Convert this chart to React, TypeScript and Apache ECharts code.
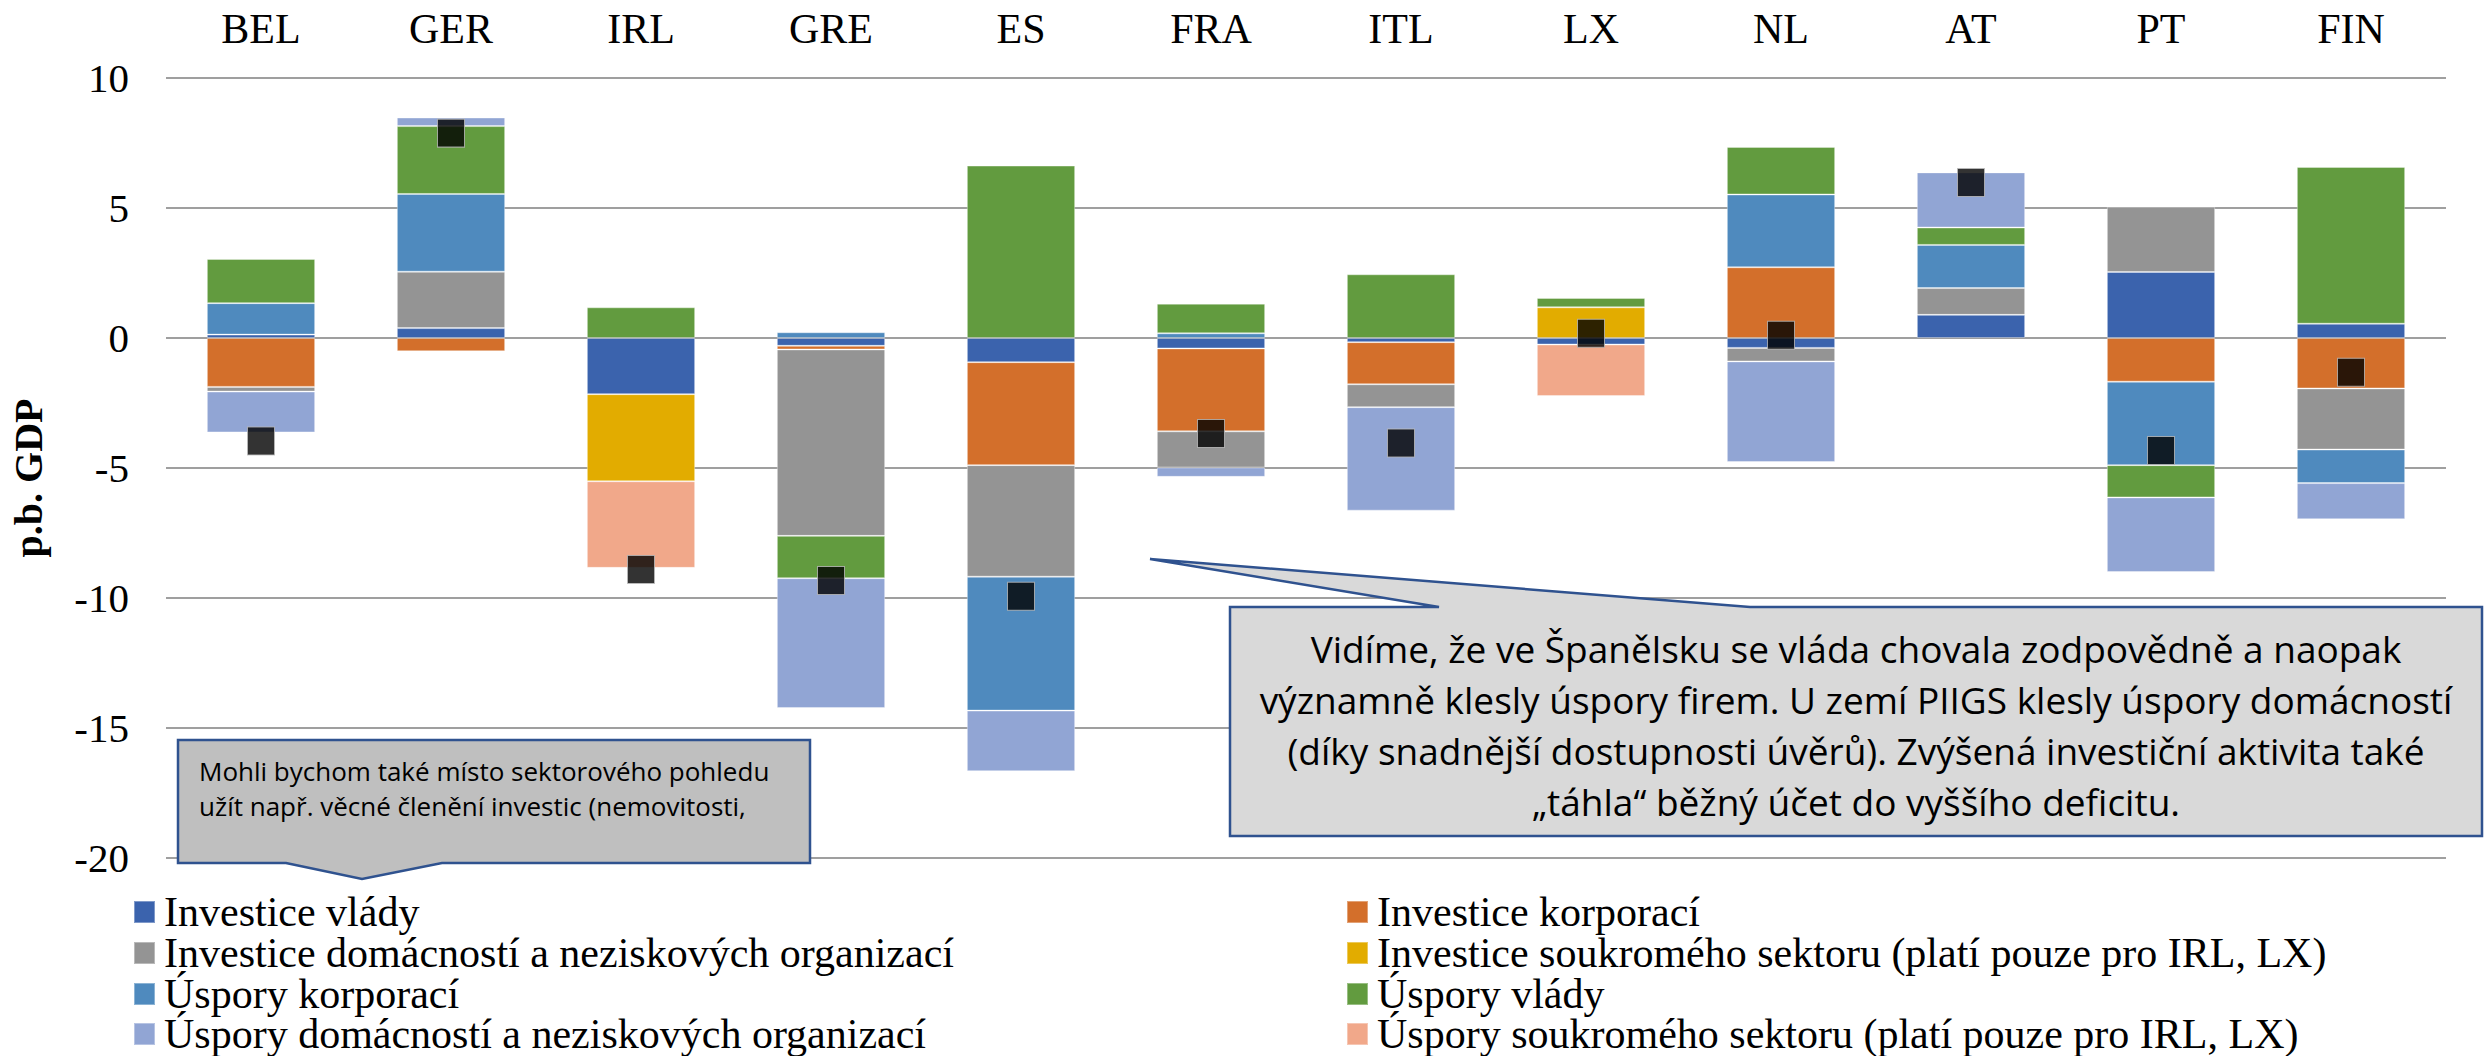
import React, { useEffect, useRef } from "react";
import * as echarts from "echarts";

const categories = ["BEL", "GER", "IRL", "GRE", "ES", "FRA", "ITL", "LX", "NL", "AT", "PT", "FIN"];

const seriesNames = [
  "Investice vlády",
  "Investice korporací",
  "Investice domácností a neziskových organizací",
  "Investice soukromého sektoru (platí pouze pro IRL, LX)",
  "Úspory korporací",
  "Úspory vlády",
  "Úspory domácností a neziskových organizací",
  "Úspory soukromého sektoru (platí pouze pro IRL, LX)",
];

const invVlady = [0.13, 0.38, -2.16, -0.3, -0.93, -0.4, -0.16, -0.25, -0.38, 0.89, 2.54, 0.55];
const invKorporaci = [-1.88, -0.51, null, -0.14, -3.96, -3.19, -1.62, null, 2.72, null, -1.68, -1.94];
const invDomacnosti = [-0.18, 2.17, null, -7.17, -4.29, -1.39, -0.88, null, -0.52, 1.03, 2.51, -2.35];
const invSoukromeho = [null, null, -3.35, null, null, null, null, 1.18, null, null, null, null];
const uspKorporaci = [1.21, 2.99, null, 0.22, -5.15, 0.18, null, null, 2.8, 1.66, -3.21, -1.29];
const uspVlady = [1.7, 2.61, 1.18, -1.63, 6.63, 1.14, 2.45, 0.36, 1.83, 0.67, -1.24, 6.03];
const uspDomacnosti = [-1.57, 0.33, null, -4.99, -2.33, -0.36, -3.98, null, -3.87, 2.12, -2.87, -1.39];
const uspSoukromeho = [null, null, -3.33, null, null, null, null, -1.98, null, null, null, null];
const beznyUcet = [-3.96, 7.88, -8.9, -9.33, -9.93, -3.67, -4.04, 0.18, 0.11, 5.98, -4.33, -1.32];

const yTicks = { min: -20, max: 10, interval: 5 };

const seriesData = [invVlady, invKorporaci, invDomacnosti, invSoukromeho, uspKorporaci, uspVlady, uspDomacnosti, uspSoukromeho];
const colors = ["#3B63AD", "#D36F2B", "#949494", "#E2AC00", "#4F8ABE", "#629B3F", "#91A5D4", "#F1A88A"];

const note1Lines = [
  "Mohli bychom také místo sektorového pohledu",
  "užít např. věcné členění investic (nemovitosti,",
];
const note2Lines = [
  "Vidíme, že ve Španělsku se vláda chovala zodpovědně a naopak",
  "významně klesly úspory firem. U zemí PIIGS klesly úspory domácností",
  "(díky snadnější dostupnosti úvěrů). Zvýšená investiční aktivita také",
  "„táhla“ běžný účet do vyššího deficitu.",
];

const SERIF = "'Liberation Serif', 'Times New Roman', serif";
const SANS = "'Open Sans', 'Noto Sans', sans-serif";

export default function App() {
  const ref = useRef<HTMLDivElement>(null);
  useEffect(() => {
    if (!ref.current) return;
    const chart = echarts.init(ref.current, undefined, { renderer: "svg" });

    const bars = seriesNames.map((name, i) => ({
      name,
      type: "bar",
      stack: "total",
      stackStrategy: "samesign",
      barCategoryGap: "43%",
      data: seriesData[i],
      itemStyle: { color: colors[i], borderColor: "rgba(255,255,255,0.35)", borderWidth: 1 },
      emphasis: { disabled: true },
    }));

    // legend: two columns, row-major order as in the reference
    const colLeft = [133, 1346];
    const rowCenter = [910, 951, 992, 1032];
    const legends = seriesNames.map((name, i) => ({
      data: [name],
      orient: "horizontal",
      left: colLeft[i % 2],
      top: rowCenter[Math.floor(i / 2)] - 19,
      padding: 0,
      itemWidth: 21,
      itemHeight: 22,
      icon: "rect",
      selectedMode: false,
      textStyle: { fontSize: 42, fontFamily: SERIF, color: "#000", lineHeight: 38, padding: [0, 0, 0, 4] },
    }));

    const note1 = [
      {
        type: "polygon",
        shape: {
          points: [
            [178, 740], [810, 740], [810, 863], [442, 863], [362, 879], [286, 863], [178, 863],
          ],
        },
        style: { fill: "#BFBFBF", stroke: "#2F528F", lineWidth: 2.5 },
        z: 100,
      },
      ...note1Lines.map((t, i) => ({
        type: "text",
        x: 199,
        y: 771 + i * 35,
        style: { text: t, fontSize: 26, fontFamily: SANS, fill: "#000", align: "left", verticalAlign: "middle" },
        z: 101,
      })),
    ];

    const note2 = [
      {
        type: "polygon",
        shape: {
          points: [
            [1230, 607], [1439, 607], [1150, 559], [1750, 607], [2482, 607], [2482, 836], [1230, 836],
          ],
        },
        style: { fill: "#D9D9D9", stroke: "#2F528F", lineWidth: 2.5 },
        z: 100,
      },
      ...note2Lines.map((t, i) => ({
        type: "text",
        x: 1856,
        y: 648 + i * 51,
        style: { text: t, fontSize: 37, fontFamily: SANS, fill: "#000", align: "center", verticalAlign: "middle" },
        z: 101,
      })),
    ];

    chart.setOption({
      animation: false,
      backgroundColor: "#fff",
      grid: { left: 161, right: 45, top: 78, bottom: 198, containLabel: false },
      legend: legends,
      xAxis: {
        type: "category",
        data: categories,
        position: "top",
        axisLine: { show: false },
        axisTick: { show: false },
        axisLabel: { fontSize: 42, fontFamily: SERIF, color: "#000", margin: 28, lineHeight: 42 },
        splitLine: { show: false },
      },
      yAxis: {
        type: "value",
        min: yTicks.min,
        max: yTicks.max,
        interval: yTicks.interval,
        name: "p.b. GDP",
        nameLocation: "middle",
        nameRotate: 90,
        nameGap: 118,
        nameTextStyle: { fontSize: 40, fontFamily: SERIF, fontWeight: "bold", color: "#000", padding: [0, 20, 0, 0] },
        axisLine: { show: false },
        axisTick: { show: false },
        axisLabel: { fontSize: 41, fontFamily: SERIF, color: "#000", margin: 37 },
        splitLine: { show: true, lineStyle: { color: "#9F9F9F", width: 2 } },
      },
      series: [
        ...bars,
        {
          name: "Běžný účet",
          type: "scatter",
          data: beznyUcet,
          symbol: "rect",
          symbolSize: [27, 28],
          itemStyle: { color: "#000", borderColor: "#BDBDBD", borderWidth: 1 },
          z: 10,
          emphasis: { disabled: true },
        },
      ],
      graphic: [...note1, ...note2],
    });

    return () => chart.dispose();
  }, []);

  return (
    <div
      ref={ref}
      style={{ position: "fixed", left: 0, top: 0, width: 2491, height: 1056, background: "#fff" }}
    />
  );
}
